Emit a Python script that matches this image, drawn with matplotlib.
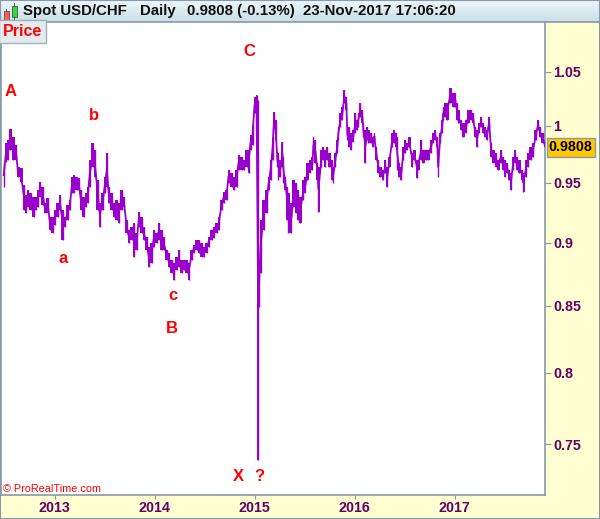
import matplotlib
matplotlib.use("Agg")
import matplotlib.pyplot as plt
import numpy as np
from matplotlib.patches import Rectangle
from matplotlib.ticker import FixedLocator, FixedFormatter, NullLocator

plt.rcParams['font.family'] = ['Liberation Sans', 'DejaVu Sans']

# ---- data (decimal year, daily-range high / low) ----
t = [2012.492, 2012.515, 2012.535, 2012.555, 2012.585, 2012.615, 2012.635, 2012.665, 2012.695, 2012.715,
     2012.734, 2012.764, 2012.794, 2012.814, 2012.834, 2012.854, 2012.884, 2012.904, 2012.934, 2012.954,
     2012.984, 2013.004, 2013.034, 2013.054, 2013.084, 2013.104, 2013.134, 2013.154, 2013.174, 2013.194,
     2013.223, 2013.243, 2013.263, 2013.293, 2013.313, 2013.333, 2013.353, 2013.383, 2013.403, 2013.433,
     2013.453, 2013.483, 2013.503, 2013.523, 2013.543, 2013.573, 2013.593, 2013.623, 2013.643, 2013.673,
     2013.693, 2013.722, 2013.742, 2013.772, 2013.792, 2013.822, 2013.842, 2013.872, 2013.892, 2013.922,
     2013.942, 2013.972, 2013.992, 2014.022, 2014.042, 2014.072, 2014.092, 2014.122, 2014.142, 2014.172,
     2014.192, 2014.221, 2014.241, 2014.271, 2014.291, 2014.321, 2014.341, 2014.371, 2014.391, 2014.421,
     2014.441, 2014.471, 2014.491, 2014.521, 2014.541, 2014.571, 2014.591, 2014.621, 2014.641, 2014.671,
     2014.691, 2014.720, 2014.740, 2014.770, 2014.790, 2014.820, 2014.840, 2014.870, 2014.890, 2014.920,
     2014.940, 2014.960, 2014.980, 2015.000, 2015.020, 2015.033, 2015.045, 2015.060, 2015.090, 2015.120,
     2015.140, 2015.160, 2015.180, 2015.195, 2015.210, 2015.229, 2015.239, 2015.259, 2015.279, 2015.289,
     2015.309, 2015.329, 2015.339, 2015.369, 2015.389, 2015.419, 2015.439, 2015.459, 2015.489, 2015.509,
     2015.529, 2015.559, 2015.579, 2015.589, 2015.609, 2015.629, 2015.639, 2015.669, 2015.689, 2015.709,
     2015.728, 2015.748, 2015.778, 2015.788, 2015.808, 2015.828, 2015.838, 2015.858, 2015.878, 2015.898,
     2015.918, 2015.928, 2015.948, 2015.968, 2015.988, 2016.008, 2016.028, 2016.038, 2016.058, 2016.078,
     2016.088, 2016.108, 2016.128, 2016.138, 2016.168, 2016.188, 2016.198, 2016.217, 2016.237, 2016.257,
     2016.287, 2016.307, 2016.327, 2016.347, 2016.377, 2016.397, 2016.417, 2016.427, 2016.447, 2016.467,
     2016.487, 2016.507, 2016.527, 2016.547, 2016.577, 2016.597, 2016.627, 2016.637, 2016.667, 2016.687,
     2016.716, 2016.736, 2016.766, 2016.786, 2016.806, 2016.826, 2016.836, 2016.856, 2016.876, 2016.886,
     2016.906, 2016.926, 2016.956, 2016.986, 2017.006, 2017.026, 2017.036, 2017.066, 2017.086, 2017.116,
     2017.136, 2017.165, 2017.185, 2017.205, 2017.225, 2017.245, 2017.265, 2017.285, 2017.305, 2017.325,
     2017.345, 2017.365, 2017.385, 2017.415, 2017.435, 2017.465, 2017.485, 2017.505, 2017.525, 2017.545,
     2017.565, 2017.585, 2017.605, 2017.625, 2017.645, 2017.675, 2017.685, 2017.714, 2017.734, 2017.764,
     2017.784, 2017.814, 2017.834, 2017.854, 2017.884, 2017.904]

high = [0.9667, 0.9848, 0.9874, 0.9973, 0.9901, 0.9830, 0.9637, 0.9628, 0.9481, 0.9396,
        0.9439, 0.9413, 0.9379, 0.9379, 0.9439, 0.9507, 0.9464, 0.9329, 0.9371, 0.9212,
        0.9212, 0.9270, 0.9329, 0.9396, 0.9270, 0.9212, 0.9312, 0.9354, 0.9550, 0.9567,
        0.9550, 0.9541, 0.9439, 0.9379, 0.9413, 0.9464, 0.9698, 0.9848, 0.9786, 0.9524,
        0.9329, 0.9413, 0.9550, 0.9760, 0.9464, 0.9413, 0.9329, 0.9354, 0.9329, 0.9439,
        0.9379, 0.9187, 0.9104, 0.9129, 0.9162, 0.9080, 0.9253, 0.9212, 0.9129, 0.9047,
        0.8965, 0.8998, 0.9104, 0.9080, 0.9162, 0.9104, 0.9047, 0.8941, 0.8917, 0.8861,
        0.8837, 0.8885, 0.8941, 0.8861, 0.8861, 0.8861, 0.8837, 0.8941, 0.8982, 0.9022,
        0.9022, 0.8998, 0.8965, 0.8998, 0.9047, 0.9104, 0.9129, 0.9162, 0.9212, 0.9354,
        0.9422, 0.9439, 0.9611, 0.9585, 0.9550, 0.9611, 0.9742, 0.9724, 0.9698, 0.9786,
        0.9786, 0.9919, 1.0009, 1.0266, 1.0284, 1.0238, 0.8837, 0.9187, 0.9354, 0.9439,
        0.9550, 0.9698, 0.9901, 1.0128, 1.0054, 0.9760, 0.9760, 0.9698, 0.9857, 0.9724,
        0.9550, 0.9464, 0.9413, 0.9329, 0.9524, 0.9498, 0.9439, 0.9379, 0.9524, 0.9550,
        0.9672, 0.9698, 0.9724, 0.9901, 0.9874, 0.9672, 0.9637, 0.9786, 0.9813, 0.9786,
        0.9813, 0.9760, 0.9698, 0.9637, 0.9760, 0.9874, 0.9991, 1.0118, 1.0173, 1.0330,
        1.0266, 0.9964, 0.9991, 0.9937, 0.9964, 1.0118, 1.0054, 1.0118, 1.0210, 1.0146,
        1.0027, 0.9964, 0.9991, 0.9964, 0.9937, 0.9901, 0.9937, 0.9813, 0.9698, 0.9637,
        0.9611, 0.9698, 0.9637, 0.9724, 0.9937, 0.9964, 0.9937, 0.9901, 0.9672, 0.9637,
        0.9813, 0.9874, 0.9848, 0.9901, 0.9760, 0.9786, 0.9698, 0.9698, 0.9874, 0.9786,
        0.9786, 0.9786, 0.9874, 0.9937, 0.9964, 0.9901, 0.9724, 0.9937, 1.0054, 1.0173,
        1.0210, 1.0210, 1.0349, 1.0303, 1.0303, 1.0210, 1.0146, 1.0054, 1.0027, 1.0054,
        1.0146, 1.0146, 1.0118, 0.9991, 0.9964, 1.0027, 1.0082, 1.0027, 0.9991, 0.9964,
        1.0082, 0.9848, 0.9786, 0.9760, 0.9698, 0.9786, 0.9724, 0.9698, 0.9672, 0.9611,
        0.9585, 0.9724, 0.9786, 0.9724, 0.9698, 0.9611, 0.9585, 0.9698, 0.9760, 0.9813,
        0.9848, 0.9964, 1.0054, 0.9991, 0.9937, 0.9830]

low = [0.9464, 0.9681, 0.9698, 0.9786, 0.9698, 0.9698, 0.9550, 0.9507, 0.9270, 0.9245,
       0.9295, 0.9270, 0.9212, 0.9270, 0.9295, 0.9379, 0.9312, 0.9245, 0.9245, 0.9104,
       0.9080, 0.9145, 0.9212, 0.9270, 0.9022, 0.9129, 0.9187, 0.9270, 0.9413, 0.9413,
       0.9439, 0.9439, 0.9270, 0.9212, 0.9295, 0.9329, 0.9464, 0.9637, 0.9550, 0.9270,
       0.9129, 0.9270, 0.9413, 0.9464, 0.9329, 0.9270, 0.9212, 0.9187, 0.9162, 0.9270,
       0.9295, 0.9080, 0.8998, 0.9022, 0.8885, 0.8941, 0.9129, 0.9080, 0.9022, 0.8941,
       0.8805, 0.8837, 0.8965, 0.8998, 0.9022, 0.8941, 0.8941, 0.8861, 0.8805, 0.8757,
       0.8702, 0.8781, 0.8805, 0.8757, 0.8781, 0.8757, 0.8702, 0.8861, 0.8917, 0.8941,
       0.8917, 0.8885, 0.8885, 0.8917, 0.8965, 0.9022, 0.9039, 0.9080, 0.9104, 0.9270,
       0.9329, 0.9354, 0.9498, 0.9464, 0.9439, 0.9464, 0.9611, 0.9611, 0.9611, 0.9637,
       0.9585, 0.9786, 0.9830, 1.0118, 1.0146, 0.7396, 0.8492, 0.8757, 0.9104, 0.9245,
       0.9439, 0.9524, 0.9698, 1.0009, 0.9874, 0.9637, 0.9524, 0.9550, 0.9637, 0.9498,
       0.9439, 0.9187, 0.9080, 0.9080, 0.9295, 0.9245, 0.9187, 0.9162, 0.9354, 0.9413,
       0.9524, 0.9585, 0.9611, 0.9760, 0.9672, 0.9524, 0.9253, 0.9637, 0.9698, 0.9637,
       0.9698, 0.9637, 0.9524, 0.9498, 0.9637, 0.9760, 0.9874, 0.9991, 1.0054, 1.0210,
       1.0146, 0.9874, 0.9813, 0.9786, 0.9857, 0.9937, 0.9964, 0.9991, 1.0082, 1.0027,
       0.9901, 0.9672, 0.9874, 0.9848, 0.9848, 0.9813, 0.9874, 0.9698, 0.9585, 0.9550,
       0.9524, 0.9585, 0.9464, 0.9637, 0.9813, 0.9848, 0.9813, 0.9611, 0.9550, 0.9524,
       0.9698, 0.9760, 0.9786, 0.9813, 0.9637, 0.9698, 0.9541, 0.9611, 0.9698, 0.9672,
       0.9698, 0.9698, 0.9760, 0.9848, 0.9874, 0.9813, 0.9550, 0.9848, 0.9937, 1.0054,
       1.0082, 1.0054, 1.0210, 1.0173, 1.0173, 1.0054, 1.0027, 0.9964, 0.9901, 0.9937,
       1.0027, 1.0054, 1.0027, 0.9901, 0.9813, 0.9937, 0.9991, 0.9937, 0.9901, 0.9874,
       0.9991, 0.9724, 0.9672, 0.9637, 0.9611, 0.9672, 0.9611, 0.9550, 0.9585, 0.9524,
       0.9439, 0.9611, 0.9672, 0.9611, 0.9585, 0.9524, 0.9422, 0.9550, 0.9637, 0.9698,
       0.9724, 0.9874, 0.9964, 0.9901, 0.9848, 0.9808]

last_price = 0.9808
y_ticks = [0.75, 0.8, 0.85, 0.9, 0.95, 1.0, 1.05]
y_tick_labels = ['0.75', '0.8', '0.85', '0.9', '0.95', '1', '1.05']
x_ticks = [2013, 2014, 2015, 2016, 2017]
x_tick_labels = ['2013', '2014', '2015', '2016', '2017']
wave_labels = ['A', 'b', 'a', 'c', 'B', 'C', 'X', '?']
wave_t = [2012.565, 2013.393, 2013.084, 2014.182, 2014.172, 2014.950, 2014.840, 2015.050]
wave_p = [1.0312, 1.0091, 0.8869, 0.8577, 0.8325, 1.0691, 0.7284, 0.7284]

# ---- figure ----
W, H = 600, 519
fig = plt.figure(figsize=(W / 100, H / 100), dpi=100, facecolor='#FFFFD2')

def fx(px):
    return px / W

def fy(py):
    return 1 - py / H

# header gradient
hax = fig.add_axes([0, fy(22), 1, 22 / H])
grad = np.linspace(0, 1, 50).reshape(-1, 1)
c_top = np.array([0.93, 0.97, 0.99])
c_bot = np.array([0.79, 0.87, 0.90])
img = c_top[None, None, :] * (1 - grad[:, :, None]) + c_bot[None, None, :] * grad[:, :, None]
hax.imshow(img, aspect='auto', extent=[0, 1, 0, 1])
hax.set_axis_off()

# candle icon
fig.patches.append(Rectangle((fx(3.5), fy(20)), 5 / W, 9 / H, transform=fig.transFigure,
                             facecolor='#F06060', edgecolor='#884444', lw=0.6))
fig.lines.append(plt.Line2D([fx(6), fx(6)], [fy(22), fy(9)], transform=fig.transFigure,
                            color='#555555', lw=0.7, zorder=0))
fig.patches.append(Rectangle((fx(11.5), fy(17)), 5 / W, 11 / H, transform=fig.transFigure,
                             facecolor='#40D040', edgecolor='#2A6A2A', lw=0.6))
fig.lines.append(plt.Line2D([fx(14), fx(14)], [fy(19), fy(3)], transform=fig.transFigure,
                            color='#555555', lw=0.7, zorder=0))

hdr = dict(fontsize=10.8, fontweight='bold', color='#111111', va='center')
fig.text(fx(23), fy(11), 'Spot USD/CHF', **hdr)
fig.text(fx(140), fy(11), 'Daily', **hdr)
fig.text(fx(187), fy(11), '0.9808 (-0.13%)', **hdr)
fig.text(fx(303), fy(11), '23-Nov-2017 17:06:20', **hdr)

# main axes
ax = fig.add_axes([fx(1), fy(495), fx(545) - fx(1), (495 - 22) / H])
ax.set_facecolor('white')
ax.set_yscale('log')
ax.set_xlim(2012.465, 2017.904)
ax.set_ylim(0.7165, 1.0984)

purple = '#9900CC'
ax.fill_between(t, low, high, step='mid', color=purple, lw=0, zorder=3)
mid = [(h + l) / 2 for h, l in zip(high, low)]
ax.plot(t, mid, color=purple, lw=1.3, zorder=3)
ax.vlines(t, low, high, color=purple, lw=1.0, zorder=3)

ax.yaxis.set_major_locator(FixedLocator(y_ticks))
ax.yaxis.set_major_formatter(FixedFormatter(y_tick_labels))
ax.yaxis.set_minor_locator(NullLocator())
ax.yaxis.tick_right()
ax.xaxis.set_major_locator(FixedLocator(x_ticks))
ax.xaxis.set_major_formatter(FixedFormatter(x_tick_labels))
ax.tick_params(axis='y', direction='out', length=4, color='#8899AA', labelcolor='#660066',
               labelsize=10.3, pad=2)
ax.tick_params(axis='x', direction='out', length=3, color='#8899AA', labelcolor='#660066',
               labelsize=10.3, pad=1)
for lab in ax.get_xticklabels() + ax.get_yticklabels():
    lab.set_fontweight('bold')
for side in ['left', 'right', 'bottom', 'top']:
    ax.spines[side].set_color('#8899AA')
    ax.spines[side].set_linewidth(1.2)
ax.spines['top'].set_visible(False)

# wave labels
for lbl, tt, pp in zip(wave_labels, wave_t, wave_p):
    ax.text(tt, pp, lbl, color='#FF0000', fontsize=12, fontweight='bold', ha='center',
            va='center', zorder=5)

# last price box
ax.text(1.007, last_price, '0.9808', transform=ax.get_yaxis_transform(), color='black',
        fontsize=10.3, fontweight='bold', ha='left', va='center', zorder=6, clip_on=False,
        bbox=dict(boxstyle='square,pad=0.15', facecolor='#FFC800', edgecolor='#8899AA', lw=1))

# Price tag
fig.text(fx(3), fy(31.5), 'Price', color='#FF0000', fontsize=11.5, fontweight='bold', va='center',
         ha='left', bbox=dict(boxstyle='square,pad=0.22', facecolor='#E3EBEF', edgecolor='#A0B0B8', lw=1))

# copyright
fig.text(fx(3), fy(489), '\u00a9 ProRealTime.com', color='#FF0000', fontsize=7.8, va='center',
         ha='left')

# outer frame
fig.patches.append(Rectangle((0, 0), 1, 1, transform=fig.transFigure, fill=False,
                             edgecolor='#8899AA', lw=1.5))
fig.lines.append(plt.Line2D([0, 1], [fy(22), fy(22)], transform=fig.transFigure,
                            color='#8899AA', lw=1.2))

fig.savefig('out.png', dpi=100, facecolor=fig.get_facecolor())
